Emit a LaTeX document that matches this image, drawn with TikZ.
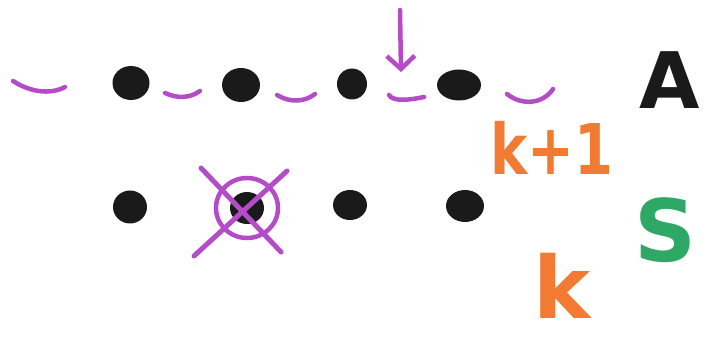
\documentclass[tikz,border=0pt]{standalone}
\usepackage{graphicx}
\usepackage{fontspec}
\setsansfont{DejaVu Sans}
\usetikzlibrary{arrows.meta,shapes.geometric}
\definecolor{pen}{HTML}{B44CC8}
\definecolor{ink}{HTML}{1A1A1A}
\definecolor{orng}{HTML}{F27A32}
\definecolor{grn}{HTML}{2FA866}
\tikzset{
  dotnode/.style={ellipse, fill=ink, draw=none, inner sep=0pt},
  smile/.style={draw=pen, line width=4.5pt, line cap=round},
  crossline/.style={draw=pen, line width=5pt, line cap=round},
  lbl/.style={inner sep=0pt, font=\sffamily\bfseries}
}
\begin{document}
\begin{tikzpicture}[x=1pt,y=-1pt]
\useasboundingbox (0,0) rectangle (704,339);
% top row dots (A)
\node[dotnode, minimum width=37pt, minimum height=34pt] (a1) at (131,83) {};
\node[dotnode, minimum width=38pt, minimum height=34pt] (a2) at (241,85) {};
\node[dotnode, minimum width=30pt, minimum height=31pt] (a3) at (352,84) {};
\node[dotnode, minimum width=44pt, minimum height=31pt] (a4) at (459,85) {};
% gaps (smiles)
\draw[smile] (13,81) .. controls (30,92) and (50,95) .. (65,87);
\draw[smile] (165,93) .. controls (178,99) and (190,98) .. (200,91);
\draw[smile] (277,95) .. controls (290,103) and (305,102) .. (315,94);
\draw[smile] (389,95) .. controls (393,102) and (410,100) .. (424,97);
\draw[smile] (507,94) .. controls (522,106) and (543,104) .. (553,89);
% arrow
\coordinate (arrtop) at (400,10);
\coordinate (arrtip) at (401,72);
\draw[pen, line width=4.5pt, line cap=round, -{Straight Barb[length=13pt,width=28pt,line width=4.5pt]}] (arrtop) -- (arrtip);
% bottom row (S)
\node[dotnode, minimum width=34pt, minimum height=33pt] (s1) at (130,207) {};
\node[dotnode, minimum width=34pt, minimum height=32pt] (s2) at (247,208) {};
\node[dotnode, minimum width=34pt, minimum height=30pt] (s3) at (350,205) {};
\node[dotnode, minimum width=38pt, minimum height=32pt] (s4) at (465,206) {};
% circled and crossed out
\draw[pen, line width=4.5pt] (s2.center) ellipse (31pt and 30pt);
\draw[crossline] (201,168) -- (281,252);
\draw[crossline] (287,171) -- (194,256);
% labels
\node[lbl, text=ink, font=\sffamily\bfseries\fontsize{78}{78}\selectfont, text depth=0pt] (A) at (670,80) {A};
\node[lbl, text=grn, font=\sffamily\bfseries\fontsize{86}{86}\selectfont] (S) at (665,230) {S};
\node[lbl, text=orng, font=\sffamily\bfseries\fontsize{70}{70}\selectfont] (kp) at (552,148) {\scalebox{0.8}[1]{k+1}};
\node[lbl, text=orng, font=\sffamily\bfseries\fontsize{86}{86}\selectfont, anchor=base] (k) at (562,318) {k};
\end{tikzpicture}
\end{document}
